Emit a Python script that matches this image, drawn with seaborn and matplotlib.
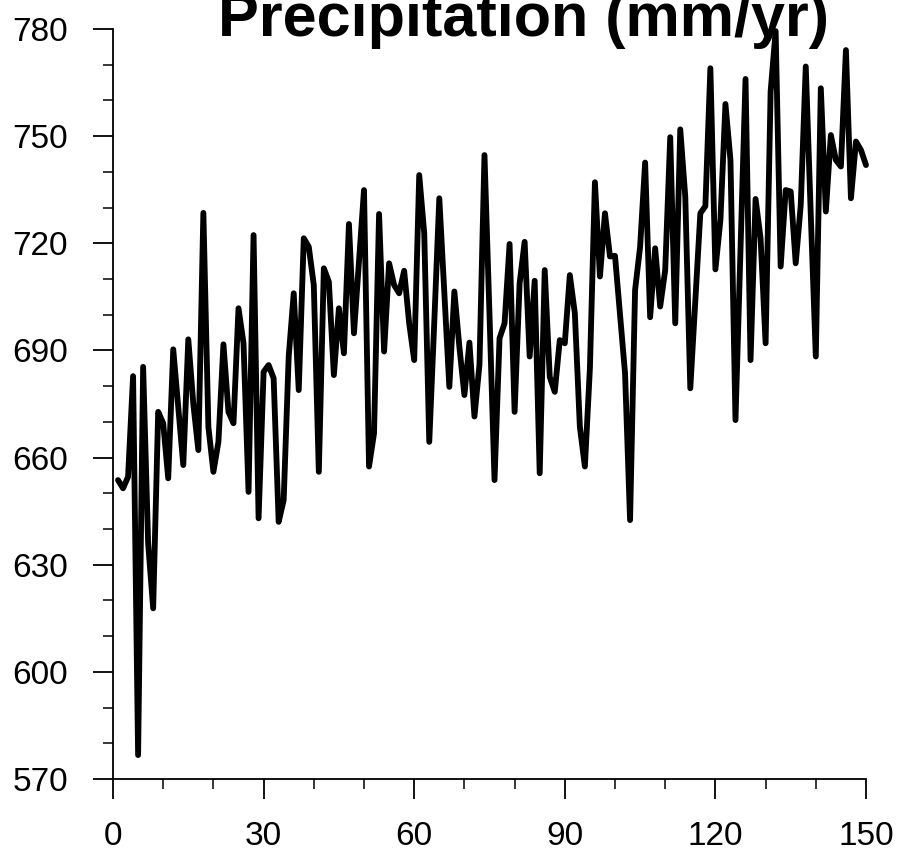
import numpy as np
import pandas as pd
import matplotlib
matplotlib.use("Agg")
import matplotlib.pyplot as plt
from matplotlib.ticker import MultipleLocator
import seaborn as sns

# ---- data ----
years = list(range(1, 151))
precip = [
    653.7, 651.4, 654.6, 682.8, 576.7, 685.4, 636.0, 617.8, 672.8, 669.6,
    654.2, 690.3, 674.0, 657.9, 693.1, 675.0, 662.1, 728.5, 668.6, 656.0,
    664.4, 691.7, 672.8, 669.6, 701.8, 692.0, 650.4, 722.3, 643.0, 684.0,
    685.9, 682.2, 642.0, 648.1, 688.3, 706.0, 678.9, 721.4, 719.0, 708.3,
    656.0, 713.0, 709.2, 683.1, 701.8, 689.2, 725.4, 694.8, 715.0, 734.9,
    657.5, 666.8, 728.2, 689.7, 714.4, 708.3, 706.0, 712.3, 697.6, 687.3,
    739.1, 722.8, 664.4, 698.0, 732.6, 706.0, 679.8, 706.5, 691.0, 677.5,
    692.2, 671.5, 686.0, 744.7, 700.0, 653.7, 693.4, 697.6, 719.8, 672.8,
    708.8, 720.4, 688.3, 709.5, 655.6, 712.5, 682.6, 678.4, 692.9, 692.0,
    711.1, 700.4, 668.6, 657.5, 685.0, 737.1, 710.7, 728.4, 716.3, 716.5,
    700.0, 683.6, 642.5, 706.9, 719.0, 742.6, 699.3, 718.6, 702.3, 712.5,
    749.7, 697.6, 751.9, 733.0, 679.4, 704.0, 728.4, 730.4, 769.0, 712.7,
    726.5, 759.0, 743.3, 670.5, 718.0, 766.0, 687.3, 732.4, 721.4, 692.0,
    762.5, 779.4, 713.5, 734.9, 734.5, 714.4, 730.7, 769.5, 728.0, 688.3,
    763.4, 728.9, 750.3, 743.3, 741.5, 774.1, 732.6, 748.5, 746.1, 741.9,
]
x_ticks = [0, 30, 60, 90, 120, 150]
y_ticks = [570, 600, 630, 660, 690, 720, 750, 780]
title = "Precipitation (mm/yr)"

df = pd.DataFrame({"year": years, "precip": precip})

sns.set_style("ticks")
plt.rcParams["font.family"] = ["Liberation Sans", "DejaVu Sans"]

fig = plt.figure(figsize=(8.97, 8.55), dpi=100)
ax = fig.add_axes([113 / 897, 1 - 779 / 855, (866 - 113) / 897, (779 - 29) / 855])

sns.lineplot(data=df, x="year", y="precip", ax=ax, color="black",
             linewidth=4.2, solid_joinstyle="round", solid_capstyle="round",
             clip_on=False)

ax.set_xlim(0, 150)
ax.set_ylim(570, 780)
ax.set_xticks(x_ticks)
ax.set_yticks(y_ticks)
ax.xaxis.set_minor_locator(MultipleLocator(10))
ax.yaxis.set_minor_locator(MultipleLocator(10))
ax.set_xlabel("")
ax.set_ylabel("")

for side in ["top", "right"]:
    ax.spines[side].set_visible(False)
for side in ["left", "bottom"]:
    ax.spines[side].set_linewidth(1.3)
    ax.spines[side].set_color("black")

ax.tick_params(axis="both", which="major", direction="out", length=14.4,
               width=1.3, color="black", labelsize=24, labelcolor="black")
ax.tick_params(axis="both", which="minor", direction="out", length=7.2,
               width=1.1, color="black")
ax.tick_params(axis="x", which="major", pad=16)
ax.tick_params(axis="y", which="major", pad=18)

fig.text(524 / 897, 1 - 36 / 855, title, ha="center", va="baseline",
         fontsize=44, fontweight="bold", color="black")

fig.savefig("out.png", dpi=100)
